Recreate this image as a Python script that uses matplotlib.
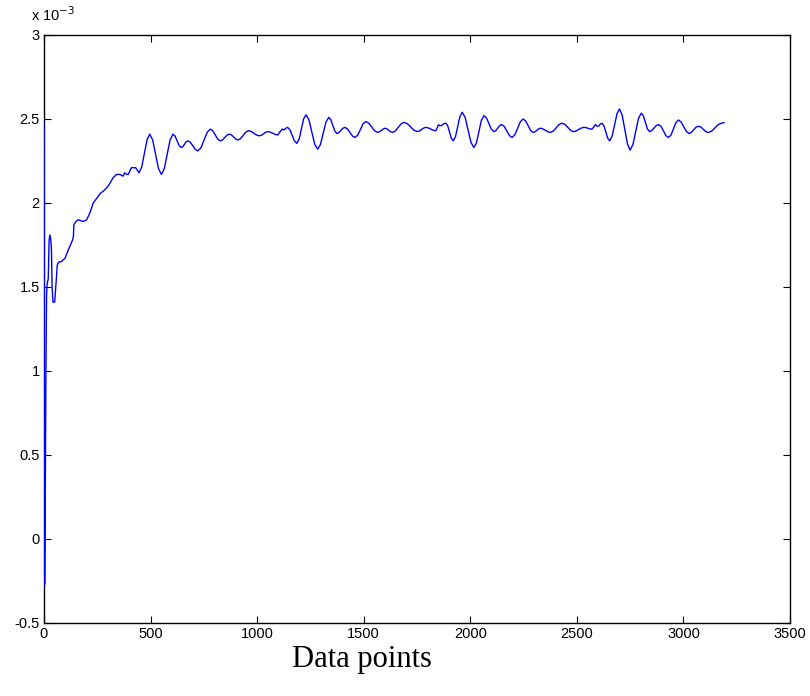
import matplotlib
matplotlib.use("Agg")
import matplotlib.pyplot as plt

# Data points (x) and values (in units of 1e-3)
x_pts = [0, 3, 6, 9, 12, 15, 20, 24, 28, 32, 35, 38, 42, 50, 54, 58, 62, 70, 80, 98,
         114, 134, 138, 140, 150, 161, 184, 200, 215, 231, 254, 266, 278, 301, 324, 340,
         356, 371, 379, 387, 395, 410, 430, 446,
         458.5, 471, 483.5, 496, 510, 523.5, 537, 551, 564.5, 578, 591.5, 605,
         615, 624.5, 634, 644, 652, 659.5, 667, 675, 687, 698.5, 710, 722,
         736.5, 751, 765.5, 780, 792, 803.5, 815, 827, 838, 848.5, 859, 870,
         880, 890, 900, 910, 922, 934.5, 947, 959, 972, 985, 998, 1011,
         1021, 1030.5, 1040, 1050, 1062, 1073.5, 1085, 1097, 1108, 1118, 1126, 1135, 1143,
         1154, 1164.5, 1175, 1186, 1197, 1207.5, 1218, 1229, 1243, 1256.5, 1270, 1284,
         1297, 1310, 1323, 1336, 1345.5, 1355, 1364.5, 1374, 1383.5, 1393, 1402.5, 1412,
         1424, 1435.5, 1447, 1459, 1472, 1484.5, 1497, 1510, 1524, 1537.5, 1551, 1565,
         1574, 1583, 1592, 1601, 1609.5, 1618, 1626.5, 1635, 1648.5, 1662, 1675.5, 1689,
         1705, 1720.5, 1736, 1752, 1762, 1771.5, 1781, 1791, 1803, 1814.5, 1826, 1838,
         1846, 1850, 1858, 1866, 1876, 1885, 1894, 1902.5, 1911, 1920,
         1930.5, 1941, 1951.5, 1962, 1976, 1989.5, 2003, 2017, 2029, 2040.5, 2052, 2064,
         2076, 2087.5, 2099, 2111, 2120, 2129, 2138, 2147, 2159, 2171.5, 2184, 2196,
         2209, 2222, 2235, 2248, 2260, 2271.5, 2283, 2295, 2303.5, 2312, 2320.5, 2329,
         2341, 2352.5, 2364, 2376, 2389.5, 2403, 2416.5, 2430, 2444, 2457.5, 2471, 2485,
         2497, 2508.5, 2520, 2532, 2542, 2551.5, 2561, 2571,
         2578, 2587, 2594, 2602, 2610, 2618, 2627, 2636, 2645, 2654,
         2665.5, 2677, 2688.5, 2700, 2712.5, 2725, 2737.5, 2750, 2763, 2776, 2789, 2802,
         2812, 2821.5, 2831, 2841, 2851.5, 2862, 2872.5, 2883, 2895, 2906.5, 2918, 2930,
         2942, 2953.5, 2965, 2977, 2989, 3001.5, 3014, 3026, 3037, 3048, 3059, 3070,
         3082, 3093.5, 3105, 3117, 3132.5, 3148, 3163.5, 3179, 3190]
y_vals = [2.48, -0.27, 0.25, 1.0, 1.45, 1.52, 1.55, 1.78, 1.81, 1.78, 1.72, 1.50, 1.41, 1.41,
          1.48, 1.55, 1.63, 1.65, 1.65, 1.67, 1.72, 1.78, 1.80, 1.87, 1.89, 1.90, 1.89, 1.90,
          1.94, 2.00, 2.04, 2.06, 2.07, 2.10, 2.15, 2.17, 2.17, 2.16, 2.18, 2.17, 2.17, 2.21,
          2.21, 2.18,
          2.214, 2.295, 2.376, 2.41, 2.375, 2.29, 2.205, 2.17, 2.205, 2.29, 2.375, 2.41,
          2.398, 2.37, 2.342, 2.33, 2.336, 2.35, 2.364, 2.37, 2.361, 2.34, 2.319, 2.31,
          2.329, 2.375, 2.421, 2.44, 2.43, 2.405, 2.38, 2.37, 2.376, 2.39, 2.404, 2.41,
          2.405, 2.3925, 2.38, 2.375, 2.383, 2.4025, 2.422, 2.43, 2.426, 2.415, 2.404, 2.40,
          2.404, 2.4125, 2.421, 2.425, 2.422, 2.415, 2.408, 2.405, 2.425, 2.44, 2.435, 2.445, 2.45,
          2.436, 2.4025, 2.369, 2.355, 2.38, 2.44, 2.50, 2.525, 2.495, 2.4225, 2.35, 2.32,
          2.348, 2.415, 2.482, 2.51, 2.496, 2.462, 2.428, 2.414, 2.419, 2.432, 2.445, 2.45,
          2.441, 2.42, 2.399, 2.39, 2.404, 2.4375, 2.471, 2.485, 2.475, 2.4525, 2.43, 2.42,
          2.424, 2.4325, 2.441, 2.445, 2.441, 2.4325, 2.424, 2.42, 2.429, 2.45, 2.471, 2.48,
          2.472, 2.4525, 2.433, 2.425, 2.429, 2.4375, 2.446, 2.45, 2.447, 2.44, 2.433, 2.43,
          2.45, 2.465, 2.46, 2.462, 2.472, 2.475, 2.46, 2.4225, 2.385, 2.37,
          2.395, 2.455, 2.515, 2.54, 2.509, 2.435, 2.361, 2.33, 2.358, 2.425, 2.492, 2.52,
          2.506, 2.4725, 2.439, 2.425, 2.431, 2.446, 2.461, 2.467, 2.456, 2.4285, 2.401, 2.39,
          2.406, 2.445, 2.484, 2.50, 2.488, 2.46, 2.432, 2.42, 2.424, 2.4325, 2.441, 2.445,
          2.441, 2.4325, 2.424, 2.42, 2.428, 2.4475, 2.467, 2.475, 2.468, 2.45, 2.432, 2.425,
          2.429, 2.4375, 2.446, 2.45, 2.449, 2.445, 2.441, 2.44,
          2.45, 2.467, 2.458, 2.457, 2.47, 2.475, 2.46, 2.4225, 2.385, 2.37,
          2.398, 2.465, 2.532, 2.56, 2.524, 2.4375, 2.351, 2.315, 2.347, 2.425, 2.503, 2.535,
          2.519, 2.48, 2.441, 2.425, 2.431, 2.446, 2.461, 2.467, 2.456, 2.4285, 2.401, 2.39,
          2.405, 2.442, 2.479, 2.494, 2.482, 2.454, 2.426, 2.414, 2.42, 2.4355, 2.451, 2.457,
          2.452, 2.4385, 2.425, 2.42, 2.428, 2.4475, 2.467, 2.475, 2.478]

x_ticks = [0, 500, 1000, 1500, 2000, 2500, 3000, 3500]
y_ticks = [-0.5, 0, 0.5, 1, 1.5, 2, 2.5, 3]
y_tick_labels = ["-0.5", "0", "0.5", "1", "1.5", "2", "2.5", "3"]

fig = plt.figure(figsize=(8.1, 6.96), dpi=100)
ax = fig.add_axes([44 / 810, 73 / 696, 746 / 810, 588 / 696])

ax.plot(x_pts, y_vals, color=(0, 0, 1), linewidth=1.0, zorder=3)

ax.set_xlim(0, 3500)
ax.set_ylim(-0.5, 3)
ax.set_xticks(x_ticks)
ax.set_xticklabels([str(t) for t in x_ticks], fontfamily="Liberation Sans", fontsize=10.5)
ax.set_yticks(y_ticks)
ax.set_yticklabels(y_tick_labels, fontfamily="Liberation Sans", fontsize=10.5)
ax.tick_params(direction="in", length=5, width=0.8, top=True, right=True, pad=3, colors="black")
for s in ax.spines.values():
    s.set_linewidth(1.0)

ax.set_xlabel("Data points", fontfamily="Liberation Serif", fontsize=22, labelpad=6)
ax.xaxis.set_label_coords(0.426, -0.038, transform=ax.transAxes)
ax.xaxis.label.set_va("top")
ax.text(-0.018, 1.018, r"x 10$^{-3}$", transform=ax.transAxes, fontfamily="Liberation Sans",
        fontsize=10.5, ha="left", va="bottom")

fig.savefig("out.png", dpi=100)
